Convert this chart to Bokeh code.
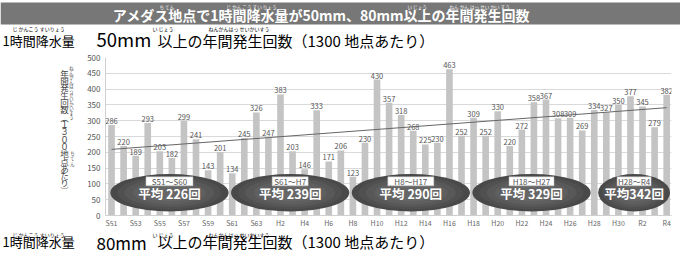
from bokeh.plotting import figure
from bokeh.layouts import column, row
from bokeh.models import Range1d, FixedTicker, ColumnDataSource
from bokeh.core.properties import value
from bokeh.embed import file_html
from bokeh.resources import INLINE
import numpy as np

# ---------------- data ----------------
years = ["S51", "S52", "S53", "S54", "S55", "S56", "S57", "S58", "S59", "S60",
         "S61", "S62", "S63", "H1", "H2", "H3", "H4", "H5", "H6", "H7",
         "H8", "H9", "H10", "H11", "H12", "H13", "H14", "H15", "H16", "H17",
         "H18", "H19", "H20", "H21", "H22", "H23", "H24", "H25", "H26", "H27",
         "H28", "H29", "H30", "R1", "R2", "R3", "R4"]
counts = [286, 220, 189, 293, 203, 182, 299, 241, 143, 201,
          134, 245, 326, 247, 383, 203, 146, 333, 171, 206,
          123, 230, 430, 357, 318, 268, 225, 230, 463, 252,
          309, 252, 330, 220, 272, 358, 367, 308, 309, 269,
          334, 327, 350, 377, 345, 279, 382]
y_ticks = [0, 50, 100, 150, 200, 250, 300, 350, 400, 450, 500]
period_labels = ["S51～S60", "S61～H7", "H8～H17", "H18～H27", "H28～R4"]
period_avgs = ["平均 226回", "平均 239回", "平均 290回", "平均 329回", "平均342回"]
period_first = ["S51", "S61", "H8", "H18", "H28"]
period_last = ["S60", "H7", "H17", "H27", "R4"]

title_text = "アメダス地点で1時間降水量が50mm、80mm以上の年間発生回数"
sub_a = "1時間降水量"
sub_b50 = "50mm"
sub_b80 = "80mm"
sub_c = "以上の年間発生回数（1300 地点あたり）"
ylabel_chars = ["年", "間", "発", "生", "回", "数", "︵", "１", "３", "０", "０", "地", "点", "あ", "た", "り", "︶"]
ylabel_ruby1 = list("ねんかんはっせいかいすう")
ylabel_ruby2 = list("ちてん")

# ---------------- styles ----------------
FONT = "Noto Sans CJK JP"
TOTAL_W, TOTAL_H = 680, 258
TOP_H, BOT_H = 53, 28
MID_H = TOTAL_H - TOP_H - BOT_H
BAR_COLOR = "#c4c4c4"
DARK = "#555555"


def canvas_fig(w, h):
    f = figure(width=w, height=h, output_backend="svg", toolbar_location=None, title=None,
               x_range=Range1d(0, w), y_range=Range1d(h, 0),
               x_axis_type=None, y_axis_type=None,
               min_border=0, min_border_left=0, min_border_right=0,
               min_border_top=0, min_border_bottom=0)
    f.outline_line_color = None
    f.xgrid.visible = False
    f.ygrid.visible = False
    f.background_fill_color = "white"
    f.border_fill_color = "white"
    return f


def txt(f, text, x, y, size, color="black", align="left", style="normal"):
    f.text(x=[x], y=[y], text=[text], text_font=value(FONT), text_font_size=f"{size}px",
           text_color=color, text_align=align, text_baseline="middle", text_font_style=style)


# ---------------- top: banner + 50mm subtitle ----------------
top = canvas_fig(TOTAL_W, TOP_H)
top.quad(left=[0], right=[TOTAL_W], top=[2], bottom=[24], fill_color="#777777", line_color=None)
txt(top, title_text, 321, 14, 14, color="white", align="center", style="bold")
for t, xx in [("ち てん", 159), ("じ  かん こう すい りょう", 226), ("い じょう", 407),
              ("ねん かん はっ せい かい すう", 449)]:
    txt(top, t, xx, 6.5, 4.6, color="white")

txt(top, sub_a, 2, 39.5, 13)
txt(top, sub_b50, 96, 38.5, 18.5)
txt(top, sub_c, 157, 39.5, 15)
for t, xx in [("じ  かんこう  すいりょう", 12), ("い  じょう", 152), ("ねんかんはっ  せいかいすう", 208)]:
    txt(top, t, xx, 27.5, 5)

# ---------------- left: vertical y label ----------------
ylab = canvas_fig(80, MID_H)
pitch = 8.2
ylab.text(x=[64] * len(ylabel_chars), y=[17 + i * pitch for i in range(len(ylabel_chars))],
          text=ylabel_chars, text_font=value(FONT), text_font_size="8.5px", text_color="#444444",
          text_align="center", text_baseline="middle")
ylab.text(x=[71] * len(ylabel_ruby1), y=[12 + i * 5.0 for i in range(len(ylabel_ruby1))],
          text=ylabel_ruby1, text_font=value(FONT), text_font_size="4.3px", text_color="#444444",
          text_align="center", text_baseline="middle")
ylab.text(x=[72] * len(ylabel_ruby2), y=[107 + i * 6.0 for i in range(len(ylabel_ruby2))],
          text=ylabel_ruby2, text_font=value(FONT), text_font_size="4.3px", text_color="#444444",
          text_align="center", text_baseline="middle")

# ---------------- chart ----------------
x = list(range(len(years)))
p = figure(width=TOTAL_W - 80, height=MID_H, output_backend="svg", toolbar_location=None, title=None,
           x_range=Range1d(-0.5, 46.4), y_range=Range1d(0, 500),
           min_border_left=25, min_border_right=9, min_border_top=4, min_border_bottom=13)
p.outline_line_color = None
p.background_fill_color = "white"
p.border_fill_color = "white"
p.xgrid.visible = False
p.ygrid.grid_line_color = "#d9d9d9"

for ax in (p.xaxis[0], p.yaxis[0]):
    ax.major_tick_line_color = None
    ax.minor_tick_line_color = None
    ax.major_tick_out = 0
    ax.major_tick_in = 0
    ax.minor_tick_out = 0
    ax.minor_tick_in = 0
    ax.axis_line_color = "#cfcfcf"
    ax.major_label_text_font = FONT

p.yaxis.ticker = FixedTicker(ticks=y_ticks)
p.yaxis.major_label_text_font_size = "8px"
p.yaxis.major_label_text_color = DARK
p.yaxis.major_label_standoff = 5

tick_idx = list(range(0, len(years), 2))
p.xaxis.ticker = FixedTicker(ticks=tick_idx)
p.xaxis.major_label_overrides = {i: years[i] for i in tick_idx}
p.xaxis.major_label_text_font_size = "7px"
p.xaxis.major_label_text_color = "#666666"
p.xaxis.major_label_standoff = 2

src = ColumnDataSource(dict(x=x, y=counts, lab=[str(c) for c in counts]))
p.vbar(x="x", top="y", width=0.55, source=src, fill_color=BAR_COLOR, line_color=None)
p.text(x="x", y="y", text="lab", source=src, text_align="center", text_baseline="bottom",
       y_offset=-1, text_font=value(FONT), text_font_size="7.5px", text_color=DARK)

# trend line (least squares fit of the counts)
coef = np.polyfit(x, counts, 1)
p.line(x=[x[0], x[-1]], y=[coef[1] + coef[0] * x[0], coef[1] + coef[0] * x[-1]],
       line_color="#666666", line_width=1)

# period ellipses
idx = {y: i for i, y in enumerate(years)}
centers = [(idx[a] + idx[b]) / 2 + 0.3 for a, b in zip(period_first, period_last)]
spans = [idx[b] - idx[a] + 1 for a, b in zip(period_first, period_last)]
ell_w = [s * 0.98 - (0.9 if s < 10 else 0) for s in spans]
ell_y, ell_h = 72, 119
shades = [(1.0, "#494949"), (0.88, "#505050"), (0.76, "#585858"), (0.62, "#5f5f5f"), (0.46, "#666666")]
for k, col in shades:
    p.ellipse(x=centers, y=[ell_y] * len(centers), width=[w * k for w in ell_w],
              height=ell_h * k, fill_color=col, line_color=None)

box_w = [47, 36, 46, 45, 34]
p.rect(x=centers, y=[108] * 5, width=box_w, width_units="screen", height=9, height_units="screen",
       fill_color="white", line_color="#bbbbbb", line_width=0.5)
p.text(x=centers, y=[107] * 5, text=period_labels, text_align="center", text_baseline="middle",
       text_font=value(FONT), text_font_size="8px", text_color=DARK)
p.text(x=centers, y=[70] * 5, text=period_avgs, text_align="center", text_baseline="middle",
       text_font=value(FONT), text_font_size="12.5px", text_color="white", text_font_style="bold")

# ---------------- bottom: 80mm subtitle ----------------
bot = canvas_fig(TOTAL_W, BOT_H)
for t, xx in [("じ  かんこう  すいりょう", 12), ("い  じょう", 152), ("ねんかんはっ  せいかいすう", 208)]:
    txt(bot, t, xx, 3.8, 5)
txt(bot, sub_a, 2, 11.0, 13)
txt(bot, sub_b80, 96, 12.4, 17)
txt(bot, sub_c, 157, 11.0, 15)

layout = column(top, row(ylab, p, spacing=0), bot, spacing=0)
open("out.html", "w").write(file_html(layout, INLINE))
